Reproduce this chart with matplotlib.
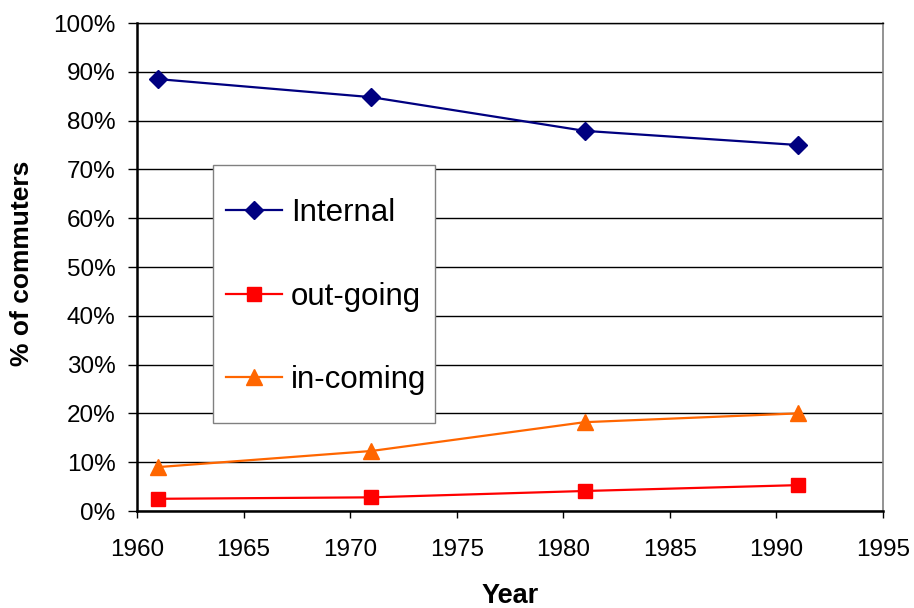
import matplotlib
matplotlib.use("Agg")
import matplotlib.pyplot as plt
from matplotlib.ticker import FuncFormatter
from matplotlib.patches import Rectangle

years = [1961, 1971, 1981, 1991]
internal = [88.5, 84.8, 77.9, 75.0]
outgoing = [2.5, 2.8, 4.1, 5.3]
incoming = [9.0, 12.3, 18.2, 20.0]
series_names = ["Internal", "out-going", "in-coming"]

plt.rcParams['font.family'] = ['Liberation Sans', 'DejaVu Sans']

W, H = 914, 608
fig = plt.figure(figsize=(W/100, H/100), dpi=100)
ax = fig.add_axes([137/W, 1-511/H, (883-137)/W, (511-23)/H])

ax.plot(years, internal, color='#000080', marker='D', markersize=9, lw=1.6, label=series_names[0], clip_on=False, zorder=4)
ax.plot(years, outgoing, color='#FF0000', marker='s', markersize=10, lw=1.6, label=series_names[1], clip_on=False, zorder=4)
ax.plot(years, incoming, color='#FF6600', marker='^', markersize=11, lw=1.6, label=series_names[2], clip_on=False, zorder=4)

ax.set_xlim(1960, 1995)
ax.set_ylim(0, 100)
ax.set_xticks(range(1960, 1996, 5))
ax.set_yticks(range(0, 101, 10))
ax.yaxis.set_major_formatter(FuncFormatter(lambda v, p: f"{int(v)}%"))
ax.grid(axis='y', color='black', lw=1.0, zorder=0)
ax.set_axisbelow(True)

for s in ['left', 'bottom']:
    ax.spines[s].set_color('black')
    ax.spines[s].set_linewidth(1.8)
ax.spines['right'].set_color('#808080')
ax.spines['right'].set_linewidth(1.2)
ax.spines['top'].set_color('black')
ax.spines['top'].set_linewidth(1.0)

ax.tick_params(axis='y', direction='out', length=6.5, width=1, labelsize=17.5, pad=9)
ax.tick_params(axis='x', direction='out', length=5, width=1, labelsize=17.5, pad=15)

fig.text(510/W, 1-596/H, "Year", fontsize=19.5, fontweight='bold', ha='center', va='center')
fig.text(22/W, 1-263.5/H, "% of commuters", fontsize=19, fontweight='bold', ha='center', va='center', rotation=90)

# legend box
box = Rectangle((213/W, 1-423/H), (435-213)/W, (423-165)/H, transform=fig.transFigure,
                facecolor='white', edgecolor='#808080', lw=1.0, zorder=5, clip_on=False)
ax.add_patch(box)
leg = ax.legend(loc='center left', bbox_to_anchor=(226/W, 1-296.5/H), bbox_transform=fig.transFigure,
                fontsize=22.5, frameon=False, borderpad=0, labelspacing=1.72, handlelength=1.8,
                handletextpad=0.28, borderaxespad=0)
leg.set_zorder(6)

fig.savefig("out.png", dpi=100)
